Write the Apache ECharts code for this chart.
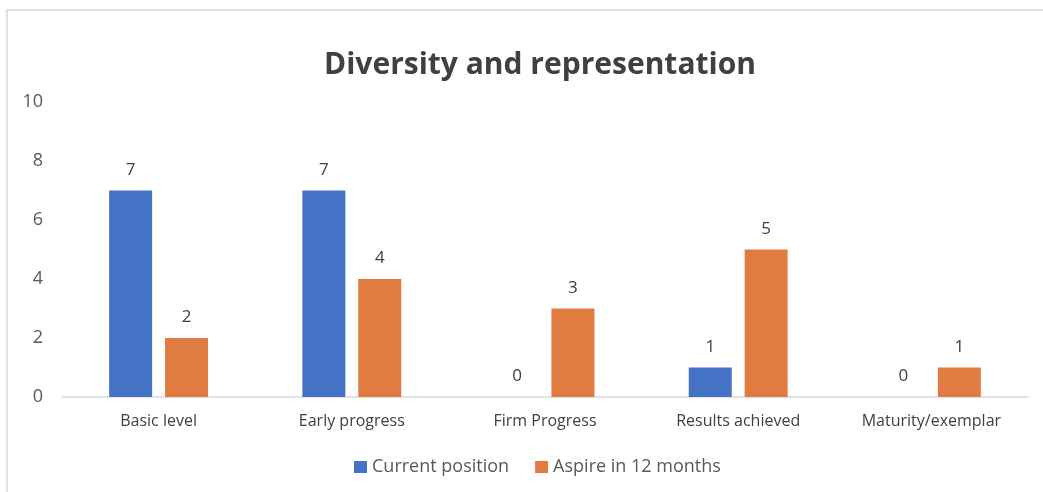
<!DOCTYPE html>
<html><head><meta charset="utf-8">
<script src="https://cdn.jsdelivr.net/npm/echarts@6/dist/echarts.min.js"></script>
<style>html,body{margin:0;padding:0;background:#fff}#c{width:1043px;height:492px}</style>
</head><body><div id="c"></div>
<script>
const categories = ['Basic level', 'Early progress', 'Firm Progress', 'Results achieved', 'Maturity/exemplar'];
const currentPosition = [7, 7, 0, 1, 0];
const aspire12Months = [2, 4, 3, 5, 1];
const seriesNames = ['Current position', 'Aspire in 12 months'];
const titleText = 'Diversity and representation';

const chart = echarts.init(document.getElementById('c'));
const font = '"Open Sans", "Noto Sans", sans-serif';
const lbl = {show: true, position: 'top', distance: 12, color: '#404040', fontSize: 17, fontFamily: font};
chart.setOption({
  animation: false,
  title: {text: titleText, left: 319, top: 45, textStyle: {fontSize: 30, fontWeight: 'bold', color: '#404040', fontFamily: font}},
  graphic: [{type: 'polyline', shape: {points: [[7, 492], [7, 10], [1043, 10]]}, style: {stroke: '#d9d9d9', lineWidth: 1.5, fill: null}}],
  legend: {bottom: 11, left: 349, itemWidth: 13, itemHeight: 12, itemGap: 26, icon: 'rect',
    textStyle: {fontSize: 18, color: '#595959', fontFamily: font, padding: [0, 0, 0, 0]}},
  grid: {left: 62, right: 15, top: 102, bottom: 95},
  xAxis: {type: 'category', data: categories,
    axisLine: {lineStyle: {color: '#d9d9d9', width: 1.5}}, axisTick: {show: false},
    axisLabel: {color: '#404040', fontSize: 16, margin: 16, fontFamily: font}},
  yAxis: {type: 'value', min: 0, max: 10, interval: 2, splitLine: {show: false},
    axisLabel: {color: '#595959', fontSize: 18, margin: 19, fontFamily: font}},
  series: [
    {name: seriesNames[0], type: 'bar', data: currentPosition, barWidth: 43, barGap: '30%', itemStyle: {color: '#4472C4'}, label: lbl},
    {name: seriesNames[1], type: 'bar', data: aspire12Months, barWidth: 43, itemStyle: {color: '#E07B42'}, label: lbl}
  ]
});
</script></body></html>
